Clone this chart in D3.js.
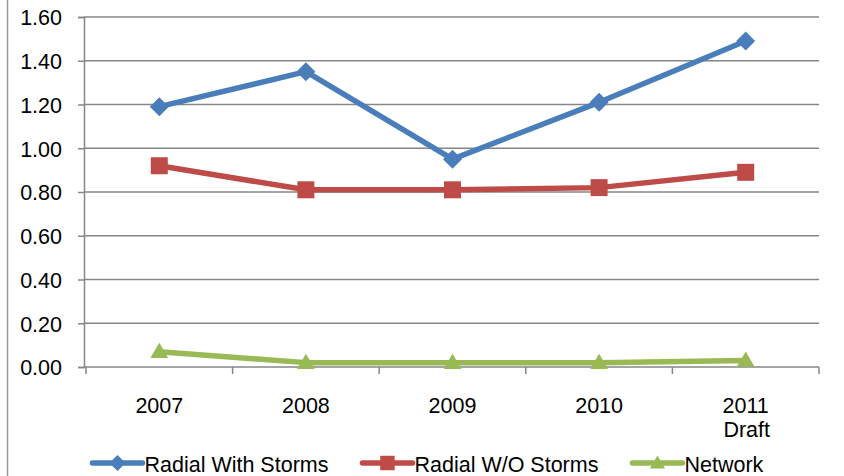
<!DOCTYPE html>
<html>
<head>
<meta charset="utf-8">
<script src="https://cdn.jsdelivr.net/npm/d3@7"></script>
<style>
  html, body { margin: 0; padding: 0; background: #fff; }
  svg text { font-family: "Liberation Sans", Arial, sans-serif; fill: #000; }
</style>
</head>
<body>
<svg id="chart" width="844" height="476"></svg>
<script>
// Years on the category axis (second line under the last one)
const categories = ["2007", "2008", "2009", "2010", "2011"];
const categorySubLabels = ["", "", "", "", "Draft"];

// Series values
const radialWithStorms = [1.19, 1.35, 0.95, 1.21, 1.49];
const radialWithoutStorms = [0.92, 0.81, 0.81, 0.82, 0.89];
const network = [0.07, 0.02, 0.02, 0.02, 0.03];

const seriesNames = ["Radial With Storms", "Radial W/O Storms", "Network"];
const seriesColors = ["#4a7ebb", "#be4b48", "#98b954"];
const seriesMarkers = ["diamond", "square", "triangle"];

// Value axis ticks
const yTicks = [0, 0.2, 0.4, 0.6, 0.8, 1.0, 1.2, 1.4, 1.6];

const series = [radialWithStorms, radialWithoutStorms, network].map((values, i) => ({
  name: seriesNames[i], color: seriesColors[i], marker: seriesMarkers[i], values
}));

const fontSize = 21.5;
const svg = d3.select("#chart");
const plot = { left: 86, right: 819, top: 17, bottom: 367 };

const x = d3.scaleBand().domain(categories).range([plot.left, plot.right]).padding(0);
const y = d3.scaleLinear().domain([0, 1.6]).range([plot.bottom, plot.top]);

// Outer frame edge on the left
svg.append("line").attr("x1", 7.5).attr("x2", 7.5).attr("y1", 0).attr("y2", 476)
  .attr("stroke", "#9a9a9a").attr("stroke-width", 1.5);

// Horizontal gridlines
svg.append("g").selectAll("line").data(yTicks.filter(d => d > 0)).join("line")
  .attr("x1", plot.left - 2).attr("x2", plot.right)
  .attr("y1", d => y(d)).attr("y2", d => y(d))
  .attr("stroke", "#868686").attr("stroke-width", 1.5);

// Value axis
const yAxis = svg.append("g").attr("transform", `translate(${plot.left - 2},0)`)
  .call(d3.axisLeft(y).tickValues(yTicks).tickFormat(d3.format(".2f")).tickSize(6).tickPadding(16));
yAxis.select(".domain").attr("stroke", "#868686").attr("stroke-width", 1.5);
yAxis.selectAll(".tick line").attr("stroke", "#868686").attr("stroke-width", 1.5);
yAxis.selectAll(".tick text").attr("font-size", fontSize).attr("dy", "0.36em")
  .style("font-family", '"Liberation Sans", Arial, sans-serif');

// Category axis with tick marks between categories
const xAxisG = svg.append("g");
xAxisG.append("line").attr("x1", plot.left - 2).attr("x2", plot.right)
  .attr("y1", plot.bottom).attr("y2", plot.bottom)
  .attr("stroke", "#868686").attr("stroke-width", 1.5);
const boundaries = categories.map(c => x(c)).concat([x(categories[categories.length - 1]) + x.bandwidth()]);
xAxisG.selectAll("line.tick").data(boundaries).join("line").attr("class", "tick")
  .attr("x1", d => d).attr("x2", d => d)
  .attr("y1", plot.bottom).attr("y2", plot.bottom + 7)
  .attr("stroke", "#868686").attr("stroke-width", 1.5);
xAxisG.selectAll("text.cat").data(categories).join("text").attr("class", "cat")
  .attr("x", d => x(d) + x.bandwidth() / 2).attr("y", 413)
  .attr("text-anchor", "middle").attr("font-size", fontSize).text(d => d);
xAxisG.selectAll("text.sub").data(categories).join("text").attr("class", "sub")
  .attr("x", d => x(d) + x.bandwidth() / 2 + 1).attr("y", 437)
  .attr("text-anchor", "middle").attr("font-size", fontSize)
  .text((d, i) => categorySubLabels[i]);

// Marker shapes
function markerPath(type, s) {
  if (type === "diamond") return `M0,${-s}L${s},0L0,${s}L${-s},0Z`;
  if (type === "square") return `M${-s},${-s}H${s}V${s}H${-s}Z`;
  return `M0,${-s * 1.05}L${s * 1.05},${s * 0.75}L${-s * 1.05},${s * 0.75}Z`;
}
const markerSize = { diamond: 9.5, square: 8.5, triangle: 8.5 };

const line = d3.line().x((d, i) => x(categories[i]) + x.bandwidth() / 2).y(d => y(d));

const sg = svg.append("g").selectAll("g").data(series).join("g");
sg.append("path").attr("d", d => line(d.values)).attr("fill", "none")
  .attr("stroke", d => d.color).attr("stroke-width", 5.5)
  .attr("stroke-linejoin", "round").attr("stroke-linecap", "round");
sg.each(function (s) {
  d3.select(this).selectAll("path.mk").data(s.values).join("path").attr("class", "mk")
    .attr("transform", (v, i) => `translate(${x(categories[i]) + x.bandwidth() / 2},${y(v)})`)
    .attr("d", markerPath(s.marker, markerSize[s.marker]))
    .attr("fill", s.color);
});

// Legend
const legend = svg.append("g");
const items = legend.selectAll("g").data(series).join("g");
items.append("line").attr("x1", 0).attr("x2", 50).attr("y1", 0).attr("y2", 0)
  .attr("stroke", d => d.color).attr("stroke-width", 5.5).attr("stroke-linecap", "round");
items.append("path").attr("transform", "translate(25,0)")
  .attr("d", d => markerPath(d.marker, markerSize[d.marker] * 0.85)).attr("fill", d => d.color);
items.append("text").attr("x", 52).attr("y", 9).attr("font-size", fontSize).text(d => d.name);
const gap = 34;
const widths = [];
items.each(function () { widths.push(this.getBBox().width); });
const total = d3.sum(widths) + gap * (widths.length - 1);
let cx = 428 - total / 2;
items.attr("transform", (d, i) => {
  const t = `translate(${cx},463)`;
  cx += widths[i] + gap;
  return t;
});
</script>
</body>
</html>
